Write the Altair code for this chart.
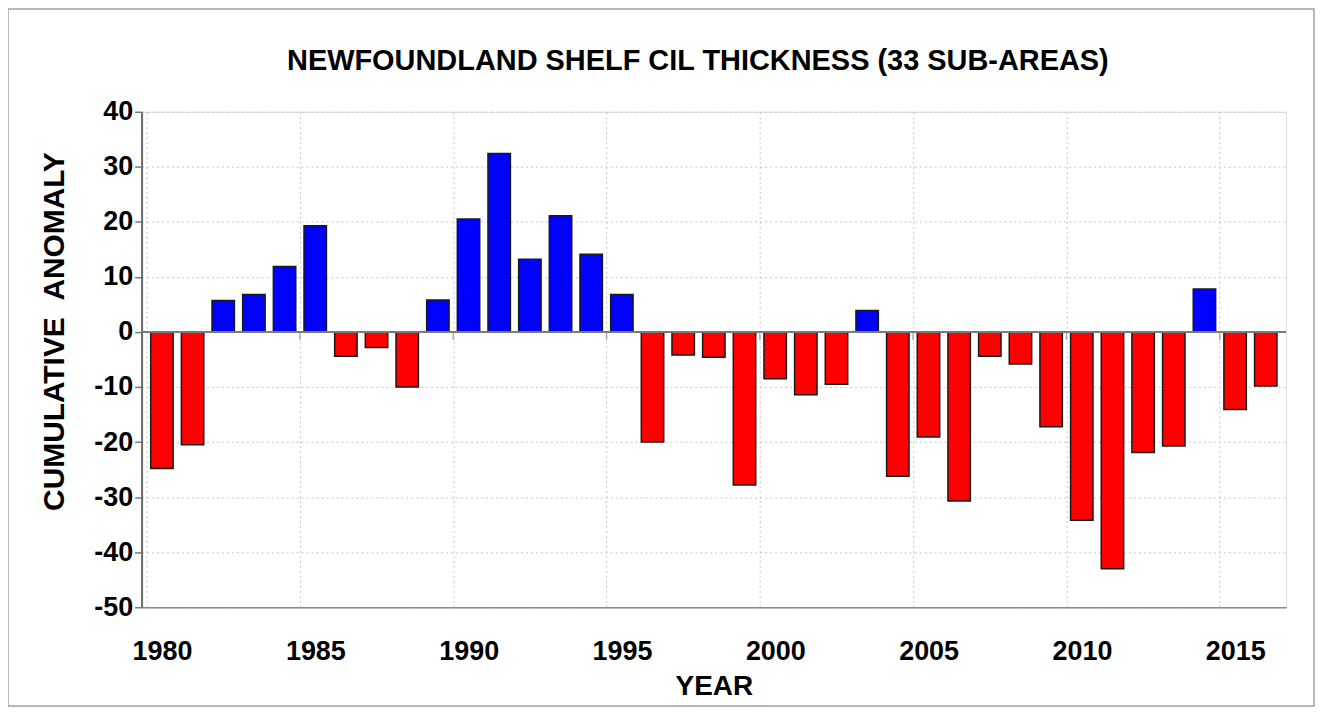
import altair as alt
import pandas as pd

# ---- data ----
years = list(range(1980, 2017))
anomaly = [
    -24.8, -20.5, 5.7, 6.8, 11.9, 19.3, -4.4, -2.8, -10.0, 5.8,
    20.5, 32.4, 13.2, 21.1, 14.1, 6.8, -20.0, -4.2, -4.6, -27.8,
    -8.5, -11.4, -9.5, 3.9, -26.2, -19.1, -30.7, -4.4, -5.8, -17.2,
    -34.2, -43.0, -21.9, -20.7, 7.8, -14.1, -9.8,
]
x_tick_years = years[0::5]          # 1980 ... 2015
zero_tick_years = years[5::5]       # 1985 ... 2015
y_ticks = [-50, -40, -30, -20, -10, 0, 10, 20, 30, 40]
title_text = "NEWFOUNDLAND SHELF CIL THICKNESS (33 SUB-AREAS)"
x_title = "YEAR"
y_title = "CUMULATIVE \u00a0ANOMALY"

df = pd.DataFrame({"year": years, "anomaly": anomaly})
df["sign"] = ["pos" if v > 0 else "neg" for v in anomaly]

FONT = "Liberation Sans"
W, H = 1148, 497
GRID = "#c4c4c4"

x_scale = alt.Scale(domain=[1980, 2017], nice=False, zero=False)
y_scale = alt.Scale(domain=[-50, 40], nice=False)

x_axis = alt.Axis(
    values=x_tick_years, format="d", labelOffset=W / 37 / 2,
    labelFont=FONT, labelFontSize=27, labelFontWeight="bold", labelColor="black",
    labelBaseline="alphabetic", labelPadding=52, labelFlush=False,
    ticks=False, tickSize=0,
    domain=True, domainColor="#8c8c8c", domainWidth=1.5,
    grid=True, gridColor=GRID, gridDash=[2, 3], gridWidth=1,
    title=x_title, titleFont=FONT, titleFontSize=28, titleFontWeight="bold",
    titleColor="black", titleBaseline="alphabetic", titleX=W / 2, titleY=88,
    titleAlign="center",
)
y_axis = alt.Axis(
    values=y_ticks, labelExpr="'' + datum.value",
    labelFont=FONT, labelFontSize=27, labelFontWeight="bold", labelColor="black",
    labelPadding=2,
    ticks=True, tickSize=7, tickColor="#777777", tickWidth=1.5,
    domain=True, domainColor="#6a6a6a", domainWidth=2,
    grid=True, gridColor=GRID, gridDash=[2, 3], gridWidth=1,
    title=y_title, titleFont=FONT, titleFontSize=30, titleFontWeight="bold",
    titleColor="black", titleBaseline="alphabetic", titleAlign="center",
    titleX=-78, titleY=220,
)

one = pd.DataFrame({"v": [0]})

frame = alt.Chart(one).mark_rect(filled=False, stroke="#a0a0a0", strokeWidth=1.5).encode(
    x=alt.value(-134), x2=alt.value(1176), y=alt.value(-103), y2=alt.value(596)
)

bars = alt.Chart(df).transform_calculate(mid="datum.year + 0.5").mark_bar(
    size=22.5, stroke="#1a1a1a", strokeWidth=1.5
).encode(
    x=alt.X("mid:Q", scale=x_scale, axis=x_axis),
    y=alt.Y("anomaly:Q", scale=y_scale, axis=y_axis),
    color=alt.Color("sign:N", scale=alt.Scale(domain=["pos", "neg"], range=["#0000FF", "#FF0000"]), legend=None),
)

zero_line = alt.Chart(one).mark_rule(color="#7a7a7a", strokeWidth=2).encode(y=alt.datum(0))

zero_ticks = alt.Chart(pd.DataFrame({"year": zero_tick_years, "zero": [0] * len(zero_tick_years)})).mark_tick(
    orient="vertical", size=8, thickness=1.5, color="#8a8a8a", yOffset=4
).encode(x=alt.X("year:Q", scale=x_scale), y=alt.Y("zero:Q", scale=y_scale))

chart = alt.layer(frame, bars, zero_line, zero_ticks).properties(
    width=W, height=H,
    title=alt.TitleParams(
        title_text, font=FONT, fontSize=29, fontWeight="bold", color="black",
        anchor="middle", dx=-16, baseline="alphabetic", offset=-91,
    ),
    autosize=alt.AutoSizeParams(type="none"),
    padding={"left": 134, "top": 103, "right": 29, "bottom": 100},
).configure_view(stroke="#8c8c8c", strokeWidth=1.5).configure(background="white")

chart.save("out.html", embed_options={"renderer": "svg", "actions": False})
